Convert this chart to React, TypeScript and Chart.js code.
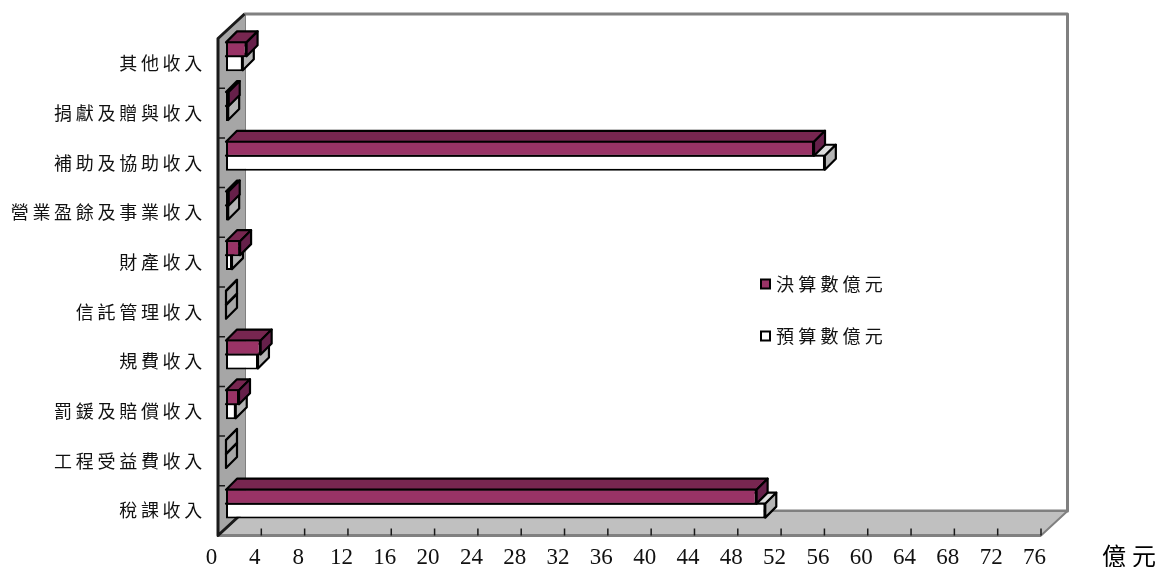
import { useEffect, useRef } from "react";
import { Chart, CategoryScale, registerables } from "chart.js";

// Revenue categories, listed from the top of the chart to the bottom.
const categories = [
  "其他收入",
  "捐獻及贈與收入",
  "補助及協助收入",
  "營業盈餘及事業收入",
  "財產收入",
  "信託管理收入",
  "規費收入",
  "罰鍰及賠償收入",
  "工程受益費收入",
  "稅課收入",
];

// Amounts in 億元.
const actualValues = [1.9, 0.25, 54.3, 0.25, 1.3, 0, 3.2, 1.2, 0, 49.0];
const budgetValues = [1.55, 0.2, 55.3, 0.2, 0.55, 0, 2.95, 0.9, 0, 49.8];

const actualLabel = "決算數億元";
const budgetLabel = "預算數億元";
const unitLabel = "億元";

const axisMax = 76;
const axisStep = 4;

const cjkFont = '"Noto Sans CJK TC"';
const digitFont = '"Liberation Serif"';

// Depth of the bars and of the surrounding box, in pixels.
const BAR_DEPTH = 11;
const FRONT_SHIFT = { x: -8, y: 7 };
const BACK_SHIFT = { x: 18.5, y: -17.5 };

const FACE_COLORS = [
  { top: "#772650", side: "#66204a" },
  { top: "#dcdcdc", side: "#b4b4b4" },
];

// Category axis whose labels are set with wide spacing between the characters.
class SpacedCategoryScale extends CategoryScale {
  static id = "spacedCategory";
  static defaults = CategoryScale.defaults;
  drawLabels(area: any) {
    const ctx = this.ctx as any;
    ctx.save();
    ctx.letterSpacing = "3.7px";
    super.drawLabels(area);
    ctx.restore();
  }
}

Chart.register(...registerables, SpacedCategoryScale);

function polygon(ctx: CanvasRenderingContext2D, pts: number[][], fill: string | null, stroke: string, width: number) {
  ctx.beginPath();
  pts.forEach(([x, y], i) => (i ? ctx.lineTo(x, y) : ctx.moveTo(x, y)));
  ctx.closePath();
  if (fill) {
    ctx.fillStyle = fill;
    ctx.fill();
  }
  ctx.strokeStyle = stroke;
  ctx.lineWidth = width;
  ctx.lineJoin = "round";
  ctx.stroke();
}

// Back wall, left wall, floor and their tick marks.
const boxPlugin = {
  id: "box",
  beforeDatasetsDraw(chart: any) {
    const { ctx, chartArea: a, scales } = chart;
    const fl = a.left + FRONT_SHIFT.x;
    const fr = a.right + FRONT_SHIFT.x;
    const ft = a.top + FRONT_SHIFT.y;
    const fb = a.bottom + FRONT_SHIFT.y;
    const bl = a.left + BACK_SHIFT.x;
    const br = a.right + BACK_SHIFT.x;
    const bt = a.top + BACK_SHIFT.y;
    const bb = a.bottom + BACK_SHIFT.y;
    ctx.save();
    polygon(ctx, [[bl, bt], [br, bt], [br, bb], [bl, bb]], "#ffffff", "#808080", 3);
    polygon(ctx, [[fl, ft], [bl, bt], [bl, bb], [fl, fb]], "#a6a6a6", "#a6a6a6", 1);
    polygon(ctx, [[fl, fb], [bl, bb], [br, bb], [fr, fb]], "#c0c0c0", "#808080", 2);
    ctx.strokeStyle = "#808080";
    ctx.lineWidth = 3;
    ctx.beginPath();
    ctx.moveTo(fl - 1, fb);
    ctx.lineTo(fr, fb);
    ctx.stroke();
    ctx.strokeStyle = "#1a1a1a";
    ctx.lineWidth = 3;
    ctx.beginPath();
    ctx.moveTo(bl, bt);
    ctx.lineTo(fl, ft);
    ctx.lineTo(fl, fb);
    ctx.lineTo(bl, bb);
    ctx.stroke();

    // Tick marks on the bottom front edge and along the left wall.
    ctx.strokeStyle = "#1a1a1a";
    ctx.lineWidth = 1.5;
    ctx.beginPath();
    scales.x.ticks.forEach((t: any) => {
      const x = scales.x.getPixelForValue(t.value) + FRONT_SHIFT.x;
      ctx.moveTo(x, fb);
      ctx.lineTo(x, fb - 7);
    });
    categories.forEach((_, i) => {
      if (i === 0) return;
      const y = (scales.y.getPixelForValue(i - 1) + scales.y.getPixelForValue(i)) / 2 + FRONT_SHIFT.y;
      ctx.moveTo(fl, y);
      ctx.lineTo(fl + 7, y);
    });
    ctx.stroke();
    ctx.restore();
  },
};

// Top and side faces of each bar, drawn just before the bar's front face.
const barDepthPlugin = {
  id: "barDepth",
  beforeDatasetDraw(chart: any, args: any) {
    const { ctx } = chart;
    const colors = FACE_COLORS[args.index];
    const d = BAR_DEPTH;
    ctx.save();
    args.meta.data.forEach((bar: any, i: number) => {
      const { x, y, base, height } = bar.getProps(["x", "y", "base", "height"], true);
      const t = y - height / 2 + 1;
      const b = y + height / 2 - 1;
      const zero = chart.data.datasets[args.index].data[i] === 0;
      polygon(ctx, [[base, t], [base + d, t - d], [x + d, t - d], [x, t]], zero ? null : colors.top, "#000000", 2.2);
      polygon(ctx, [[x, t], [x + d, t - d], [x + d, b - d], [x, b]], zero ? null : colors.side, "#000000", 2.2);
    });
    ctx.restore();
  },
};

// Legend placed inside the plot, plus the unit caption after the axis.
const captionPlugin = {
  id: "captions",
  afterDraw(chart: any) {
    const { ctx } = chart;
    ctx.save();
    const rows = [
      { dataset: chart.data.datasets[0], y: 284 },
      { dataset: chart.data.datasets[1], y: 336 },
    ];
    rows.forEach(({ dataset, y }) => {
      ctx.fillStyle = "#000000";
      ctx.fillRect(760, y - 5.5, 11, 11);
      ctx.fillStyle = dataset.backgroundColor;
      ctx.fillRect(762, y - 3.5, 7, 7);
      ctx.fillStyle = "#111111";
      ctx.font = `18px ${cjkFont}`;
      ctx.textBaseline = "middle";
      ctx.textAlign = "left";
      (ctx as any).letterSpacing = "4.2px";
      ctx.fillText(dataset.label, 776, y);
    });
    ctx.font = `24px ${cjkFont}`;
    (ctx as any).letterSpacing = "6px";
    ctx.fillStyle = "#000000";
    ctx.fillText(unitLabel, 1102, 556);
    ctx.restore();
  },
};

export default function App() {
  const canvasRef = useRef<HTMLCanvasElement>(null);

  useEffect(() => {
    const chart = new Chart(canvasRef.current as HTMLCanvasElement, {
      type: "bar",
      data: {
        labels: categories,
        datasets: [
          { label: actualLabel, data: actualValues, backgroundColor: "#993366" },
          { label: budgetLabel, data: budgetValues, backgroundColor: "#ffffff" },
        ],
      },
      plugins: [boxPlugin, barDepthPlugin, captionPlugin],
      options: {
        indexAxis: "y",
        responsive: false,
        animation: false,
        layout: { padding: { top: 31.5, right: 110, left: 0, bottom: 0 } },
        datasets: {
          bar: {
            borderColor: "#000000",
            borderWidth: 2,
            borderSkipped: false,
            barPercentage: 1.14,
            categoryPercentage: 0.563,
          },
        },
        plugins: { legend: { display: false }, tooltip: { enabled: false } },
        scales: {
          x: {
            type: "linear",
            min: 0,
            max: axisMax,
            grid: { display: false },
            border: { display: false },
            afterFit(scale: any) {
              scale.height = 38.5;
            },
            ticks: {
              stepSize: axisStep,
              autoSkip: false,
              maxRotation: 0,
              labelOffset: -14.5,
              padding: 8,
              color: "#111111",
              font: { family: digitFont, size: 23 },
            },
          },
          y: {
            type: "spacedCategory",
            grid: { display: false },
            border: { display: false },
            afterFit(scale: any) {
              scale.width = 226;
            },
            ticks: {
              autoSkip: false,
              labelOffset: 7,
              padding: 12,
              color: "#111111",
              font: { family: cjkFont, size: 18 },
            },
          },
        },
      } as any,
    });
    return () => chart.destroy();
  }, []);

  return (
    <div style={{ position: "absolute", left: 0, top: 0, width: 1159, height: 567 }}>
      <canvas ref={canvasRef} width={1159} height={567} style={{ display: "block" }} />
    </div>
  );
}
